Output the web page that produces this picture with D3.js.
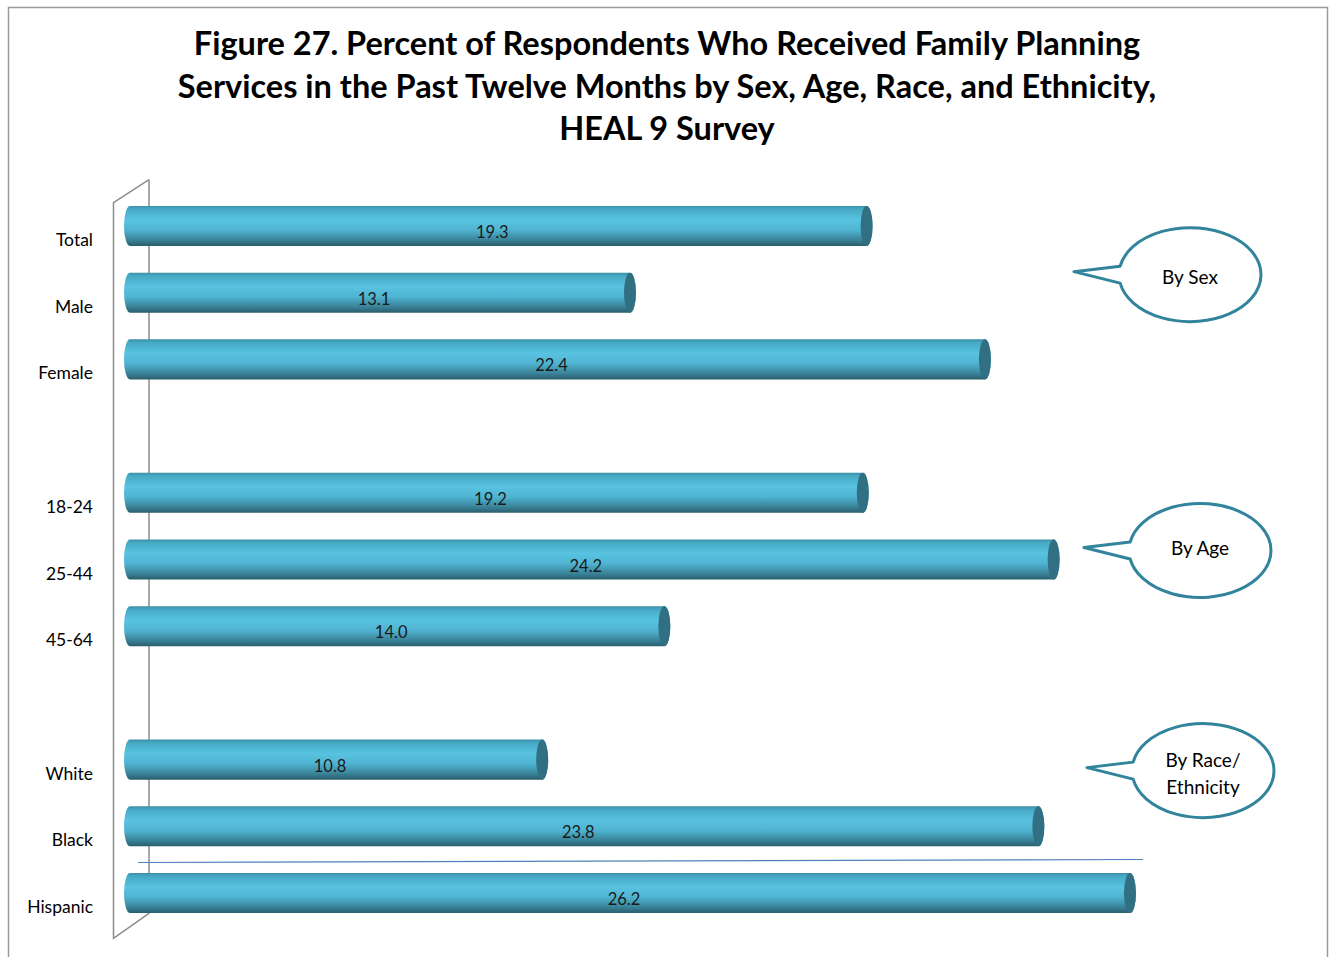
<!DOCTYPE html>
<html>
<head>
<meta charset="utf-8">
<script src="https://cdn.jsdelivr.net/npm/d3@7"></script>
<style>
  body { margin: 0; background: #fff; }
  svg { display: block; font-family: Lato, "Open Sans", sans-serif; }
</style>
</head>
<body>
<svg id="chart"></svg>
<script>
// chart data
const categories = ['Total', 'Male', 'Female', '18-24', '25-44', '45-64', 'White', 'Black', 'Hispanic'];
const values = [19.3, 13.1, 22.4, 19.2, 24.2, 14.0, 10.8, 23.8, 26.2];
const groups = ['sex', 'sex', 'sex', 'age', 'age', 'age', 'race', 'race', 'race'];
const groupLabels = [['By Sex'], ['By Age'], ['By Race/', 'Ethnicity']];
const titleLines = [
  'Figure 27. Percent of Respondents Who Received Family Planning',
  'Services in the Past Twelve Months by Sex, Age, Race, and Ethnicity,',
  'HEAL 9 Survey'
];

let width = 1330;
let height = 957;

let svg = d3.select('#chart')
  .attr('width', width)
  .attr('height', height);

// slots incl. the empty gaps between groups
let slots = [];
categories.forEach((c, i) => {
  if (i > 0 && groups[i] !== groups[i - 1]) slots.push('gap' + i);
  slots.push(c);
});

let xScale = d3.scaleLinear().domain([0, 30]).range([130, 1275]);
let yScale = d3.scaleBand()
  .domain(slots)
  .range([192.6, 926.4])
  .paddingInner(0.4)
  .paddingOuter(0.2);

// frame
svg.append('path')
  .attr('d', 'M8.5,' + (height + 2) + 'V7.5H1327.5V' + (height + 2))
  .attr('fill', 'none')
  .attr('stroke', '#9a9a9a')
  .attr('stroke-width', 1.5);

// title
svg.append('g').selectAll('text')
  .data(titleLines)
  .enter()
  .append('text')
    .attr('x', 667)
    .attr('y', (d, i) => 55 + i * 42.5)
    .attr('text-anchor', 'middle')
    .attr('font-size', 32.5)
    .attr('font-weight', 'bold')
    .attr('fill', '#000')
    .text(d => d);

// 3d wall of the category axis
let yTop = yScale.range()[0];
let yBot = yScale.range()[1];
svg.append('path')
  .attr('d', 'M149,' + (yTop - 13) + 'V' + (yBot - 13) + 'L113.5,' + (yBot + 12) +
    'V' + (yTop + 10) + 'L149,' + (yTop - 13))
  .attr('fill', 'none')
  .attr('stroke', '#8c8c8c')
  .attr('stroke-width', 1.5);

// stray line
svg.append('line')
  .attr('x1', 138).attr('y1', 862.5)
  .attr('x2', 1143).attr('y2', 859.5)
  .attr('stroke', '#4f81bd')
  .attr('stroke-width', 1.2);

// gradient for cylinders
let defs = svg.append('defs');
let grad = defs.append('linearGradient')
  .attr('id', 'cyl')
  .attr('x1', 0).attr('y1', 0).attr('x2', 0).attr('y2', 1);
[[0, '#3c8fa6'], [0.08, '#46a9c4'], [0.35, '#58c3e1'], [0.6, '#4fb4d1'], [0.85, '#3a8399'], [1, '#2a5d6c']]
  .forEach(s => grad.append('stop').attr('offset', s[0]).attr('stop-color', s[1]));

let rx = 6;
let bars = svg.append('g').selectAll('g')
  .data(categories)
  .enter()
  .append('g');

bars.append('path')
  .attr('d', (d, i) => {
    let y0 = yScale(d);
    let h = yScale.bandwidth();
    let x0 = xScale(0);
    let x1 = xScale(values[i]);
    return 'M' + x1 + ',' + y0 + 'H' + x0 +
      'A' + rx + ',' + (h / 2) + ' 0 0 0 ' + x0 + ',' + (y0 + h) +
      'H' + x1 +
      'A' + rx + ',' + (h / 2) + ' 0 0 0 ' + x1 + ',' + y0 + 'Z';
  })
  .attr('fill', 'url(#cyl)');

bars.append('ellipse')
  .attr('cx', (d, i) => xScale(values[i]))
  .attr('cy', d => yScale(d) + yScale.bandwidth() / 2)
  .attr('rx', rx)
  .attr('ry', yScale.bandwidth() / 2)
  .attr('fill', '#316f82');

// value labels
bars.append('text')
  .attr('x', (d, i) => (xScale(0) + xScale(values[i])) / 2 - 6)
  .attr('y', d => yScale(d) + yScale.bandwidth() / 2 + 12)
  .attr('text-anchor', 'middle')
  .attr('font-size', 16.5)
  .attr('fill', '#1a1a1a')
  .text((d, i) => values[i].toFixed(1));

// category labels
svg.append('g').selectAll('text')
  .data(categories)
  .enter()
  .append('text')
    .attr('x', 93)
    .attr('y', d => yScale(d) + yScale.bandwidth() / 2 + 20)
    .attr('text-anchor', 'end')
    .attr('font-size', 17.5)
    .attr('fill', '#000')
    .text(d => d);

// callouts
let groupKeys = ['sex', 'age', 'race'];
let calloutCx = [1190, 1200, 1203];
let calloutAnchor = [['Male', -18], ['25-44', -9], ['White', 11]];
let textShift = [2, -3, 3];
let erx = 71;
let ery = 47;

groupKeys.forEach((g, i) => {
  let cx = calloutCx[i];
  let cy = yScale(calloutAnchor[i][0]) + yScale.bandwidth() / 2 + calloutAnchor[i][1];
  let a = Math.asin(8.5 / ery);
  let px = cx - erx * Math.cos(a);
  let pathD = 'M' + px + ',' + (cy - 8.5) +
    'A' + erx + ',' + ery + ' 0 1 1 ' + px + ',' + (cy + 8.5) +
    'L' + (cx - 116) + ',' + (cy - 3) + 'Z';
  let c = svg.append('g');
  c.append('path')
    .attr('d', pathD)
    .attr('fill', '#fff')
    .attr('stroke', '#31849b')
    .attr('stroke-width', 3)
    .attr('stroke-linejoin', 'round');
  let lines = groupLabels[i];
  c.selectAll('text')
    .data(lines)
    .enter()
    .append('text')
      .attr('x', cx)
      .attr('y', (d, j) => cy + 7 + textShift[i] + (j - (lines.length - 1) / 2) * 27)
      .attr('text-anchor', 'middle')
      .attr('font-size', 19)
      .attr('fill', '#000')
      .text(d => d);
});
</script>
</body>
</html>
